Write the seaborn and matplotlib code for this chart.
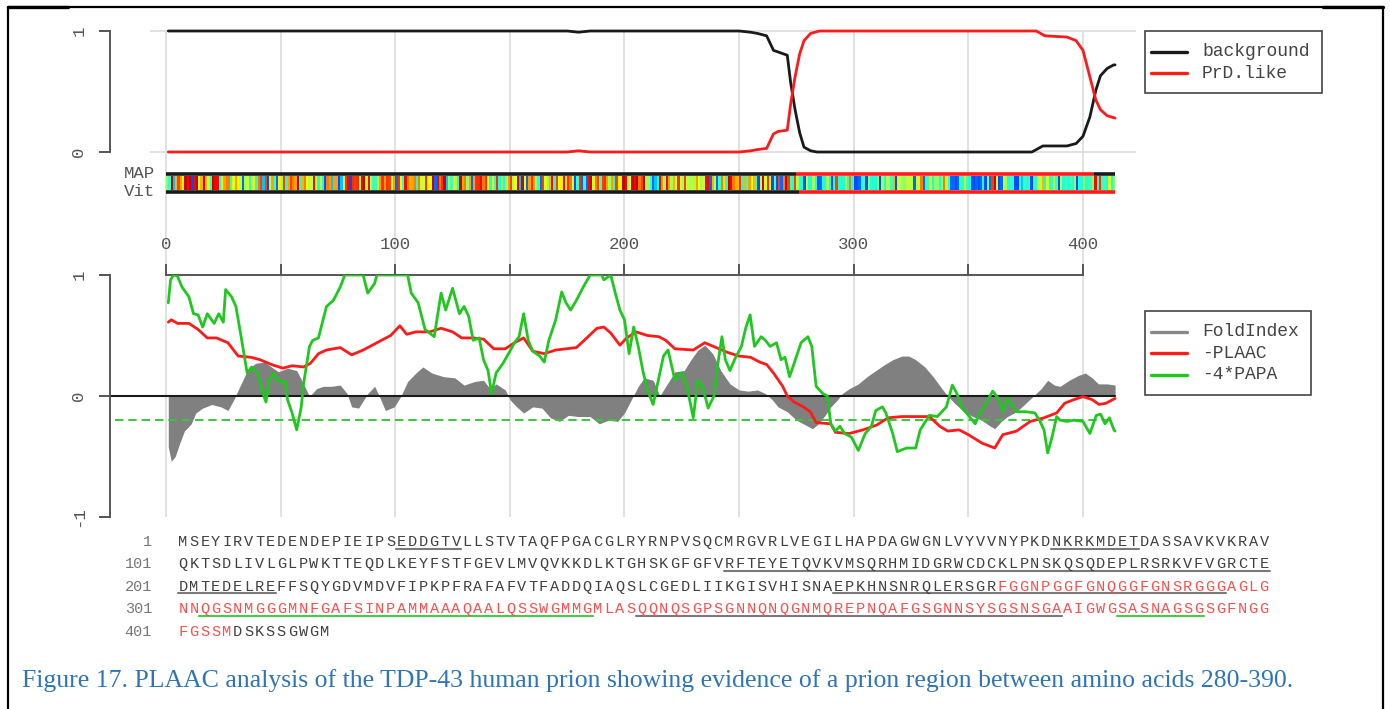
import matplotlib
matplotlib.use("Agg")
import matplotlib.pyplot as plt
from matplotlib.lines import Line2D
from matplotlib.patches import Rectangle
import numpy as np
import seaborn as sns

# ---- top panel: HMM state probabilities ----
bg_x = [1, 60, 120, 175, 180, 185, 250, 255, 258, 262, 265, 268, 271, 272.5, 274.4,
        276.4, 278.3, 281.2, 284, 300, 340, 377.7, 382.5, 393, 397, 400, 403, 405.6,
        407.6, 410.5, 413.4, 414]
bg_y = [1, 1, 1, 1, 0.99, 1, 1, 0.99, 0.98, 0.96, 0.84, 0.82, 0.80, 0.57, 0.35,
        0.16, 0.04, 0.01, 0, 0, 0, 0, 0.05, 0.05, 0.07, 0.13, 0.29, 0.51,
        0.63, 0.69, 0.72, 0.72]
prd_x = [1, 60, 120, 175, 180, 185, 250, 255, 258, 262, 265, 267, 271, 272.5, 274.4,
         276.4, 278.3, 281.2, 285, 300, 340, 379.6, 383.4, 393, 397, 400, 403, 405.6,
         407.6, 410.5, 414]
prd_y = [0, 0, 0, 0, 0.01, 0, 0, 0.01, 0.02, 0.03, 0.15, 0.17, 0.18, 0.40, 0.62,
         0.81, 0.92, 0.98, 1, 1, 1, 1, 0.96, 0.95, 0.92, 0.84, 0.62, 0.43,
         0.35, 0.30, 0.28]

# MAP / Viterbi parses: (start, end, state)
map_parse = [(0, 275, "background"), (275, 405, "PrD"), (405, 414, "background")]
vit_parse = [(0, 276, "background"), (276, 414, "PrD")]

# ---- lower panel ----
fold_x = [1, 2.3, 4, 6, 8, 11, 13, 16, 20, 24, 27, 29.6, 31.5, 33.5, 35.4, 39, 43, 46, 49, 53,
          57, 60, 62.6, 65.6, 68.5, 72, 76, 79, 81, 84, 88, 91, 93, 95.7, 99.6, 102.5, 105.4,
          109, 112, 116, 121, 126, 130, 134.6, 138.5, 141.4, 144, 148, 150, 153, 156, 160,
          164, 167.7, 171.6, 175.5, 180, 185, 189, 193, 197, 200, 203, 206, 208.6, 212.5,
          215.4, 218, 222, 226, 229, 232, 235, 238.5, 242, 246, 250, 254, 258, 261.5, 264.4,
          267, 271, 275, 279, 282, 284.6, 287.5, 290, 293, 295, 298, 302, 305.8, 309.6,
          313.5, 317, 321, 324, 327, 331, 334.6, 338.5, 341, 344, 348, 352, 355.8, 359.6,
          361.5, 364.4, 367, 371, 375, 379, 381.7, 384.6, 387.5, 390, 394, 398, 401, 404,
          406.7, 410.6, 414]
fold_y = [-0.42, -0.54, -0.50, -0.39, -0.29, -0.23, -0.14, -0.10, -0.07, -0.09, -0.12, -0.03,
          0.05, 0.13, 0.21, 0.27, 0.28, 0.24, 0.20, 0.23, 0.21, 0.10, -0.005, 0.06, 0.08,
          0.08, 0.09, 0.02, -0.09, -0.10, 0.02, 0.08, 0.0, -0.12, -0.09, 0.0, 0.12, 0.19,
          0.24, 0.19, 0.16, 0.15, 0.09, 0.12, 0.13, 0.06, 0.10, 0.05, -0.03, -0.09, -0.14,
          -0.09, -0.10, -0.18, -0.21, -0.16, -0.17, -0.17, -0.23, -0.20, -0.21, -0.14,
          -0.03, 0.08, 0.15, 0.13, 0.0, 0.08, 0.20, 0.21, 0.30, 0.38, 0.42, 0.35, 0.21,
          0.10, 0.05, 0.04, 0.05, 0.02, -0.03, -0.09, -0.13, -0.20, -0.24, -0.27, -0.23,
          -0.16, -0.09, -0.03, 0.02, 0.06, 0.10, 0.16, 0.21, 0.26, 0.30, 0.33, 0.33, 0.30,
          0.24, 0.16, 0.06, 0.0, -0.06, -0.13, -0.17, -0.20, -0.25, -0.27, -0.21, -0.17,
          -0.13, -0.06, 0.01, 0.06, 0.13, 0.09, 0.08, 0.13, 0.17, 0.19, 0.15, 0.10, 0.10,
          0.09]

plaac_x = [1, 2.3, 5, 10, 14, 18, 22, 27, 31.5, 37, 41, 46, 51, 55, 60, 63, 66.5, 70, 76, 81,
           86, 92, 98, 102, 105, 109, 115, 120, 125, 129, 134, 138.5, 143, 148, 152, 156, 160,
           165, 170, 174.5, 179, 183, 188, 191, 194, 198, 201, 205, 210, 215, 218, 222, 230,
           235, 240, 245, 250, 255, 259, 262, 265, 269, 271, 274, 278, 281, 283.6, 290, 292,
           298, 304, 310, 315, 321, 327, 333, 337.5, 341, 346, 350, 356, 361.5, 365, 371, 377,
           383, 388.5, 392, 396, 400, 404, 407, 410, 414]
plaac_y = [0.61, 0.63, 0.60, 0.60, 0.55, 0.48, 0.48, 0.44, 0.33, 0.32, 0.30, 0.26, 0.23, 0.25,
           0.24, 0.27, 0.35, 0.38, 0.40, 0.34, 0.38, 0.44, 0.50, 0.58, 0.51, 0.53, 0.53, 0.56,
           0.53, 0.48, 0.48, 0.47, 0.39, 0.39, 0.44, 0.48, 0.37, 0.35, 0.38, 0.39, 0.40, 0.47,
           0.56, 0.57, 0.52, 0.42, 0.48, 0.53, 0.50, 0.49, 0.46, 0.39, 0.38, 0.44, 0.40, 0.36,
           0.33, 0.32, 0.28, 0.26, 0.19, 0.08, 0.0, -0.05, -0.09, -0.13, -0.22, -0.23, -0.30,
           -0.31, -0.28, -0.24, -0.18, -0.17, -0.17, -0.17, -0.25, -0.29, -0.28, -0.32, -0.39,
           -0.43, -0.32, -0.29, -0.21, -0.18, -0.14, -0.06, -0.03, -0.005, -0.03, -0.07, -0.06,
           -0.02]

papa_x = [1, 2, 3.3, 5, 7, 10, 12, 14, 16, 18, 21, 23, 25, 26, 28.6, 30.5, 32.5, 35.4, 37.4,
          40, 42, 43.6, 45, 47, 49, 52, 53, 55, 57, 59, 60, 62.6, 64, 66.5, 68.5, 70, 73, 76,
          78, 86, 88, 91, 92, 105.4, 107, 110, 113, 117, 120, 122, 125, 128, 130, 132, 134,
          136.6, 138.5, 140.5, 142, 144, 147, 150, 152, 154, 156, 158, 160, 163, 165, 167,
          170, 172.6, 174.5, 176.5, 179, 182, 185, 190, 191, 194, 196, 198, 200, 202, 204,
          206, 208, 210, 212.5, 215.4, 217, 219, 222, 225, 227, 230, 232, 234, 236.5, 239,
          241, 242.5, 244, 246, 248, 251, 253, 254.8, 256.7, 259.6, 261.5, 263.5, 266.3,
          268.3, 270, 272, 274, 277, 280, 281.7, 283.6, 286.5, 288.5, 290, 292, 294, 296,
          299, 302, 305, 307.7, 309.6, 312.5, 314, 317, 319, 323, 327, 329, 333, 336.5,
          340.4, 343, 345, 347, 350, 353, 355, 357.7, 360.6, 363.5, 365, 367, 371, 375, 379,
          381, 383, 384.6, 386.5, 388.5, 390, 393, 396, 400, 403, 405.8, 407.7, 409.6,
          411.5, 413.5, 414]
papa_y = [0.77, 0.96, 1.0, 0.99, 0.90, 0.82, 0.68, 0.67, 0.57, 0.68, 0.60, 0.68, 0.61, 0.88,
          0.82, 0.74, 0.52, 0.19, 0.24, 0.19, 0.04, -0.05, 0.13, 0.19, 0.12, 0.12, -0.03,
          -0.14, -0.28, -0.09, 0.10, 0.41, 0.46, 0.48, 0.63, 0.74, 0.79, 0.90, 1.0, 1.0, 0.85,
          0.93, 1.0, 1.0, 0.85, 0.77, 0.55, 0.49, 0.85, 0.71, 0.89, 0.68, 0.74, 0.66, 0.46,
          0.48, 0.30, 0.21, 0.02, 0.19, 0.27, 0.37, 0.44, 0.49, 0.68, 0.46, 0.37, 0.33, 0.28,
          0.46, 0.63, 0.86, 0.77, 0.71, 0.79, 0.90, 1.0, 1.0, 0.96, 1.0, 0.85, 0.71, 0.63,
          0.35, 0.57, 0.41, 0.21, 0.05, -0.07, 0.19, 0.33, 0.38, 0.13, 0.19, 0.10, -0.18,
          0.13, 0.08, -0.10, 0.0, 0.30, 0.49, 0.30, 0.21, 0.30, 0.41, 0.57, 0.67, 0.41, 0.49,
          0.46, 0.41, 0.44, 0.30, 0.32, 0.16, 0.27, 0.44, 0.49, 0.41, 0.08, 0.02, 0.0, -0.23,
          -0.29, -0.25, -0.31, -0.34, -0.45, -0.31, -0.25, -0.12, -0.09, -0.14, -0.31, -0.46,
          -0.43, -0.43, -0.28, -0.16, -0.17, -0.09, 0.09, 0.02, -0.09, -0.16, -0.23, -0.14,
          -0.06, 0.04, -0.03, -0.13, -0.02, -0.13, -0.13, -0.14, -0.20, -0.28, -0.47, -0.34,
          -0.17, -0.20, -0.21, -0.20, -0.21, -0.31, -0.16, -0.15, -0.23, -0.18, -0.28, -0.29]
papa_threshold = -0.2

# ---- sequence ----
seq_rows = [
    "MSEYIRVTEDENDEPIEIPSEDDGTVLLSTVTAQFPGACGLRYRNPVSQCMRGVRLVEGILHAPDAGWGNLVYVVNYPKDNKRKMDETDASSAVKVKRAV",
    "QKTSDLIVLGLPWKTTEQDLKEYFSTFGEVLMVQVKKDLKTGHSKGFGFVRFTEYETQVKVMSQRHMIDGRWCDCKLPNSKQSQDEPLRSRKVFVGRCTE",
    "DMTEDELREFFSQYGDVMDVFIPKPFRAFAFVTFADDQIAQSLCGEDLIIKGISVHISNAEPKHNSNRQLERSGRFGGNPGGFGNQGGFGNSRGGGAGLG",
    "NNQGSNMGGGMNFGAFSINPAMMAAAQAALQSSWGMMGMLASQQNQSGPSGNNQNQGNMQREPNQAFGSGNNSYSGSNSGAAIGWGSASNAGSGSGFNGG",
    "FGSSMDSKSSGWGM",
]
row_numbers = ["1", "101", "201", "301", "401"]
prd_core = (276, 405)
gray_underlines = [(21, 26), (81, 88), (151, 200), (201, 209), (261, 296), (343, 381)]
green_underlines = [(303, 338), (387, 394)]

# per-residue colour level on the jet scale for the MAP/Vit stripe
aa_level = {"N": 0.2, "Q": 0.23, "Y": 0.32, "G": 0.39, "S": 0.42, "M": 0.52, "F": 0.55,
            "A": 0.58, "P": 0.60, "H": 0.62, "W": 0.62, "T": 0.64, "C": 0.66, "I": 0.72,
            "V": 0.74, "L": 0.78, "R": 0.84, "K": 0.86, "D": 0.90, "E": 0.93}

legend_top = ["background", "PrD.like"]
legend_bottom = ["FoldIndex", "-PLAAC", "-4*PAPA"]

caption = ("Figure 17. PLAAC analysis of the TDP-43 human prion showing evidence of a "
           "prion region between amino acids 280-390.")

# ---------------------------------------------------------------
sns.set_style("white")
plt.rcParams["font.family"] = ["Liberation Mono", "DejaVu Sans"]
plt.rcParams["lines.scale_dashes"] = False

W, H = 1390, 709
PX = 2.2925          # pixels per residue
X0 = 166             # pixel of residue 0
XLIM = (-7, 423)
XL, XR = X0 + XLIM[0] * PX, X0 + XLIM[1] * PX
GRID = "#dcdcdc"
AXC = "#555555"
TXT = "#555555"
BLACK = "#1a1a1a"
RED = "#ff1a1a"
GREEN = "#1ec81e"

fig = plt.figure(figsize=(W / 100, H / 100), dpi=100)


def rect(x0, y0, x1, y1):
    return [x0 / W, 1 - y1 / H, (x1 - x0) / W, (y1 - y0) / H]


def r_yaxis(ax, ticks, labels):
    for s in ["top", "right", "bottom"]:
        ax.spines[s].set_visible(False)
    sp = ax.spines["left"]
    sp.set_visible(True)
    sp.set_position(("outward", (XL - 110) * 0.72))
    sp.set_bounds(ticks[0], ticks[-1])
    sp.set_color(AXC)
    sp.set_linewidth(1.4)
    ax.set_yticks(ticks)
    ax.set_yticklabels(labels, rotation=90, va="center")
    ax.tick_params(axis="y", left=True, length=8, width=1.4, color=AXC,
                   labelcolor=TXT, labelsize=12.5, pad=9)
    ax.set_xlabel("")
    ax.set_ylabel("")


grid_x = list(range(0, 401, 50))

# top panel
ax1 = fig.add_axes(rect(XL, 25, XR, 158))
ax1.set_facecolor("none")
lo1, hi1 = -6 / 121, 1 + 6 / 121
ax1.vlines(grid_x, lo1, 1, color=GRID, lw=1.2, zorder=0)
ax1.hlines([0, 1], XLIM[0], XLIM[1], color=GRID, lw=1.2, zorder=0)
sns.lineplot(x=bg_x, y=bg_y, ax=ax1, color=BLACK, lw=2, legend=False)
sns.lineplot(x=prd_x, y=prd_y, ax=ax1, color=RED, lw=2, legend=False)
ax1.set_xlim(XLIM)
ax1.set_ylim(lo1, hi1)
ax1.set_xticks([])
r_yaxis(ax1, [0, 1], ["0", "1"])

# MAP / Vit band
axb = fig.add_axes(rect(XL, 158, XR, 275))
axb.set_facecolor("none")
axb.set_xlim(XLIM)
axb.set_ylim(275, 158)
axb.vlines(grid_x, 158, 275, color=GRID, lw=1.2, zorder=0)
state_col = {"background": BLACK, "PrD": RED}
for y_line, parse in [(174, map_parse), (191.5, vit_parse)]:
    for a, b, st in parse:
        axb.plot([a, b], [y_line, y_line], color=state_col[st], lw=2.6,
                 solid_capstyle="butt")
axb.axis("off")
fig.text(155 / W, 1 - 173 / H, "MAP", ha="right", va="center", size=12.5, color=TXT)
fig.text(155 / W, 1 - 191 / H, "Vit", ha="right", va="center", size=12.5, color=TXT)

full_seq = "".join(seq_rows)
axs = fig.add_axes(rect(X0, 176, X0 + len(full_seq) * PX, 190))
sns.heatmap(np.array([[aa_level[c] for c in full_seq]]), ax=axs, cmap="jet", vmin=0, vmax=1,
            cbar=False, xticklabels=False, yticklabels=False)

# lower panel
ax2 = fig.add_axes(rect(XL, 275, XR, 517))
ax2.set_facecolor("none")
ax2.vlines(grid_x, -1, 1, color=GRID, lw=1.2, zorder=0)
ax2.fill_between(fold_x, 0, fold_y, color="#808080", lw=0, zorder=1)
ax2.plot([(110 - X0) / PX, len(full_seq)], [0, 0], color=BLACK, lw=1.5, clip_on=False, zorder=2)
ax2.plot([(115 - X0) / PX, len(full_seq)], [papa_threshold] * 2, color="#33cc33", lw=1.4,
         dashes=(6, 3.6), clip_on=False, zorder=2)
sns.lineplot(x=plaac_x, y=plaac_y, ax=ax2, color=RED, lw=2, legend=False, zorder=3)
sns.lineplot(x=papa_x, y=papa_y, ax=ax2, color=GREEN, lw=2, legend=False, zorder=4)
ax2.set_xlim(XLIM)
ax2.set_ylim(-1, 1)
r_yaxis(ax2, [-1, 0, 1], ["-1", "0", "1"])
ax2.spines["top"].set_visible(True)
ax2.spines["top"].set_bounds(0, 400)
ax2.spines["top"].set_color(AXC)
ax2.spines["top"].set_linewidth(1.4)
ax2.xaxis.tick_top()
ax2.set_xticks([0, 100, 200, 300, 400])
ax2.set_xticklabels(["0", "100", "200", "300", "400"])
ax2.set_xticks([50, 150, 250, 350], minor=True)
ax2.tick_params(axis="x", which="both", top=True, bottom=False, length=8, width=1.4,
                color=AXC, labelcolor=TXT, labelsize=12.5, pad=8.5)


# legends, boxed by hand in the R layout
def legend_box(top, bottom, right, labels, colors):
    fig.add_artist(Rectangle((1145 / W, 1 - bottom / H), (right - 1145) / W, (bottom - top) / H,
                             transform=fig.transFigure, fill=False, ec="#444444", lw=1.2))
    for i, (lab, col) in enumerate(zip(labels, colors)):
        yc = 1 - (top + 20.7 + 21.6 * i) / H
        fig.add_artist(Line2D([1151 / W, 1187 / W], [yc, yc], color=col, lw=2.4,
                              transform=fig.transFigure))
        fig.text(1202 / W, yc, lab, ha="left", va="center", size=13, color="#444444")


legend_box(31, 93, 1322, legend_top, [BLACK, RED])
legend_box(311, 395, 1311, legend_bottom, ["#888888", RED, GREEN])

# sequence block
PITCH = 10.92
C0 = 183
for r, row in enumerate(seq_rows):
    base = 546 + 22.4 * r
    fig.text(152 / W, 1 - base / H, row_numbers[r], ha="right", va="baseline",
             size=11, color="#777777")
    for k, ch in enumerate(row):
        pos = r * 100 + k + 1
        col = "#ff4d4d" if prd_core[0] <= pos <= prd_core[1] else "#404040"
        fig.text((C0 + PITCH * k) / W, 1 - base / H, ch, ha="center", va="baseline",
                 size=11, color=col)


def underline(a, b, color):
    r = (a - 1) // 100
    ka, kb = (a - 1) % 100, (b - 1) % 100
    y = 1 - (546 + 22.4 * r + 2.5) / H
    fig.add_artist(Line2D([(C0 + PITCH * ka - 5.5) / W, (C0 + PITCH * kb + 5.5) / W], [y, y],
                          color=color, lw=1.5, transform=fig.transFigure))


for a, b in gray_underlines:
    underline(a, b, "#7a7a7a")
for a, b in green_underlines:
    underline(a, b, "#44cc44")

# caption
cap = fig.text(22 / W, 1 - 687 / H, caption, family="Liberation Serif", size=19,
               color="#2e75b6", va="baseline")
fig.canvas.draw()
w = cap.get_window_extent().width
cap.set_fontsize(19 * 1268 / w)

# page frame
frame = [((8, 8), (7, H)), ((1383, 1383), (7, H)), ((8, 1383), (7, 7))]
for xs, ys in frame:
    fig.add_artist(Line2D([x / W for x in xs], [1 - y / H for y in ys], color="black",
                          lw=1.6, transform=fig.transFigure))
for xs in [(8, 68), (1323, 1383)]:
    fig.add_artist(Line2D([x / W for x in xs], [1 - 7 / H] * 2, color="black",
                          lw=2.4, transform=fig.transFigure))

fig.savefig("out.png", dpi=100)
